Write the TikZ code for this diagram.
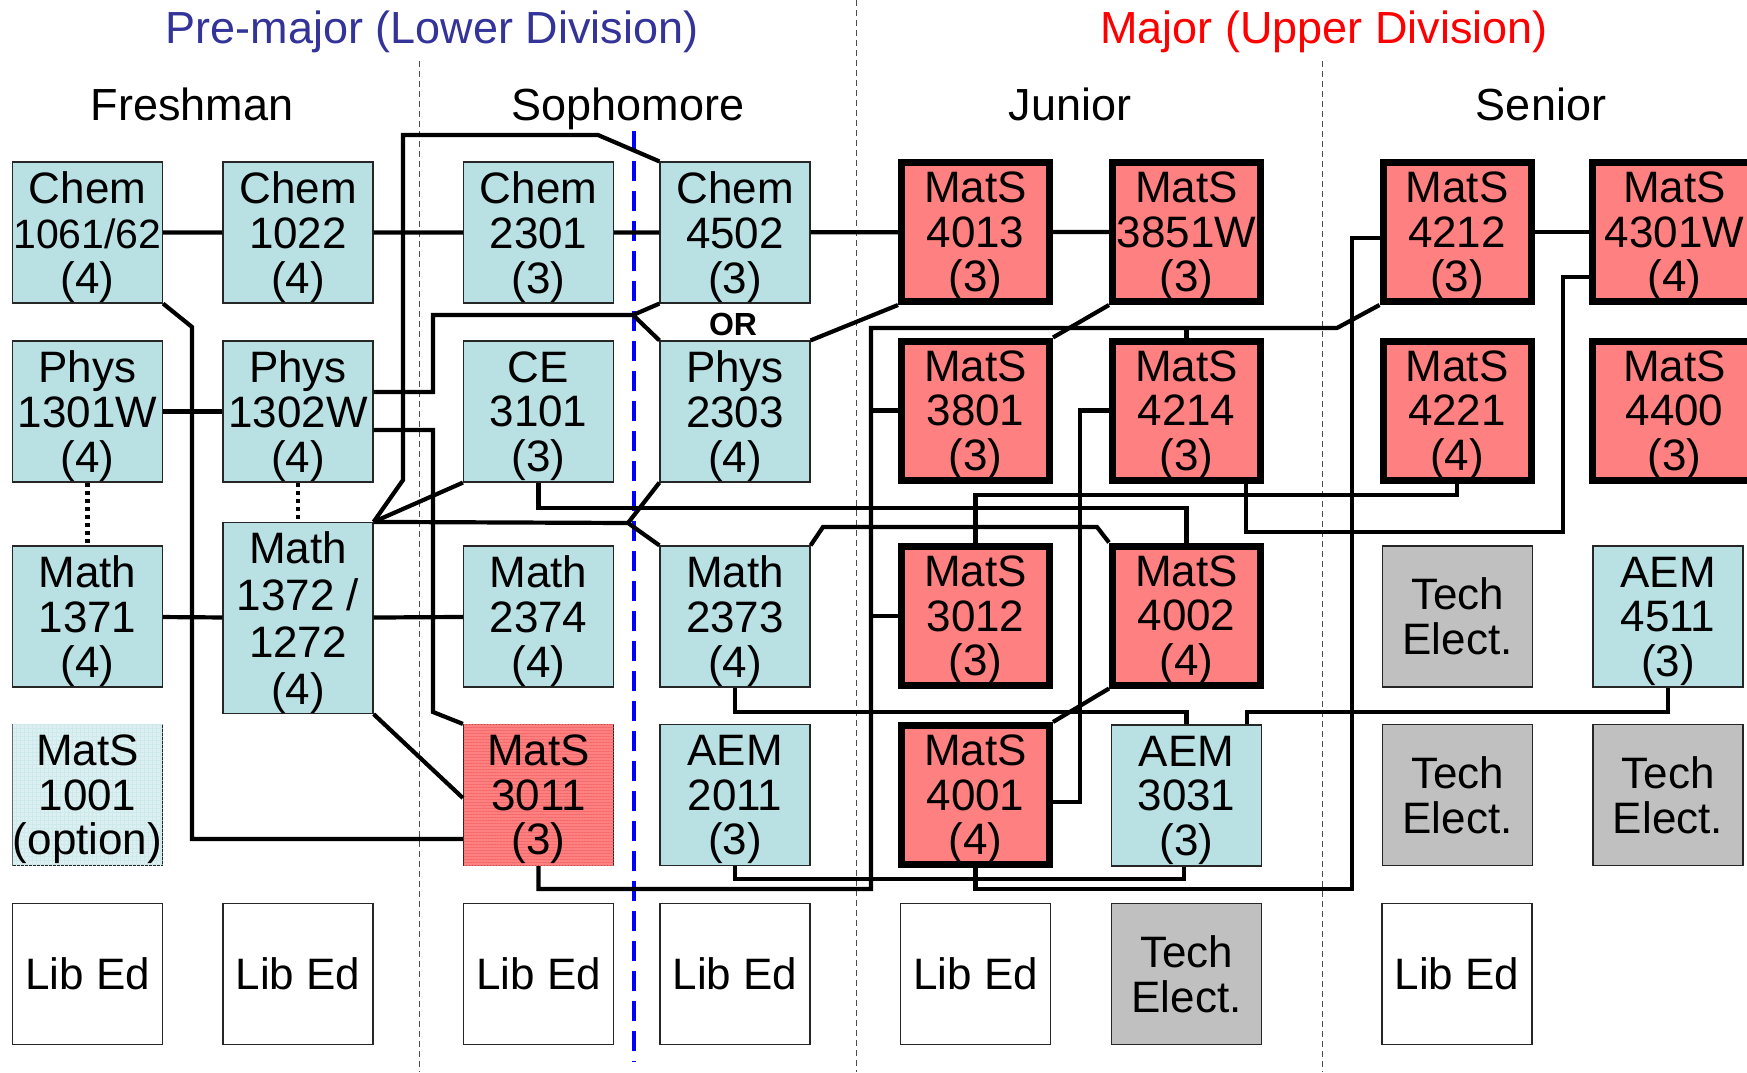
\documentclass[tikz,border=0pt]{standalone}
\usepackage{fontspec}
\setmainfont{Liberation Sans}
\usetikzlibrary{patterns.meta}
\definecolor{courseblue}{HTML}{B9E0E3}
\definecolor{optblue}{HTML}{DCEFF1}
\definecolor{matsred}{HTML}{FF8080}
\definecolor{stripered}{HTML}{F46A6A}
\definecolor{techgray}{HTML}{C0C0C0}
\definecolor{premajor}{HTML}{333399}
\definecolor{splitblue}{HTML}{0000FF}

\begin{document}
\begin{tikzpicture}[
  x=0.5pt,y=-0.5pt,
  every node/.style={font=\fontsize{22}{22.3}\selectfont,align=center,inner sep=0pt},
  boxbase/.style={draw=black!85,line width=0.6pt,minimum width=75pt,minimum height=70.5pt},
  course/.style={boxbase,fill=courseblue,text depth=0pt},
  mats/.style={draw=black,line width=3.5pt,fill=matsred,
               minimum width=74pt,minimum height=69.5pt,text depth=0pt},
  matsx/.style={course,fill=matsred,
                postaction={pattern={Lines[angle=0,distance=1.5pt,line width=0.35pt]},
                            pattern color=stripered}},
  optbox/.style={course,fill=optblue,
                 postaction={pattern={Hatch[angle=0,distance=2pt,line width=0.2pt]},
                             pattern color=optblue!60!courseblue}},
  tech/.style={boxbase,fill=techgray},
  libed/.style={boxbase,fill=white},
  hdr/.style={font=\fontsize{22.5}{24}\selectfont,anchor=base},
  link/.style={line width=2.1pt},
  divider/.style={draw=black!70,line width=0.5pt,dash pattern=on 3pt off 2pt}
]
\useasboundingbox (0,0) rectangle (1747,1072);

% headings
\node[hdr,text=premajor] (lower) at (432,43) {Pre-major (Lower Division)};
\node[hdr,text=red] (upper) at (1324,43) {Major (Upper Division)};
\node[hdr] (fresh) at (192,120) {Freshman};
\node[hdr] (soph) at (628,120) {Sophomore};
\node[hdr] (junior) at (1070,120) {Junior};
\node[hdr] (senior) at (1541,120) {Senior};

% year dividers
\draw[divider] (419,61) -- (419,1072);
\draw[divider] (856,0) -- (856,1072);
\draw[divider] (1322,61) -- (1322,1072);
\draw[splitblue,line width=2pt,dash pattern=on 10pt off 5pt] (634,131) -- (634,1062);

% row 1
\node[course] (chemA) at (87.5,232.5) {Chem\\{\fontsize{20.5}{22.3}\selectfont 1061/62}\\(4)};
\node[course] (chemB) at (298,232.5) {Chem\\1022\\(4)};
\node[course] (chemC) at (538.5,232.5) {Chem\\2301\\(3)};
\node[course] (chemD) at (735,232.5) {Chem\\4502\\(3)};
\node[mats] (m4013) at (975.5,232) {MatS\\4013\\(3)};
\node[mats] (m3851) at (1186.5,232) {MatS\\3851W\\(3)};
\node[mats] (m4212) at (1457,232) {MatS\\4212\\(3)};
\node[mats,minimum width=82pt] (m4301) at (1674.5,232) {MatS\\4301W\\(4)};

% row 2
\node[course] (physA) at (87.5,411.5) {Phys\\1301W\\(4)};
\node[course] (physB) at (298,411.5) {Phys\\1302W\\(4)};
\node[course] (ce3101) at (538.5,411.5) {CE\\3101\\(3)};
\node[course] (phys2303) at (735,411.5) {Phys\\2303\\(4)};
\node[mats] (m3801) at (975.5,410.5) {MatS\\3801\\(3)};
\node[mats] (m4214) at (1186.5,410.5) {MatS\\4214\\(3)};
\node[mats] (m4221) at (1457,410.5) {MatS\\4221\\(4)};
\node[mats,minimum width=82pt] (m4400) at (1674.5,410.5) {MatS\\4400\\(3)};
\node[font=\bfseries\fontsize{16}{16}\selectfont] (orlabel) at (733,324) {OR};

% row 3
\node[course] (mathA) at (87.5,616.5) {Math\\1371\\(4)};
\node[course,minimum height=95.5pt,font=\fontsize{22}{23.4}\selectfont] (mathB) at (298,618) {Math\\1372 /\\1272\\(4)};
\node[course] (math2374) at (538.5,616.5) {Math\\2374\\(4)};
\node[course] (math2373) at (735,616.5) {Math\\2373\\(4)};
\node[mats] (m3012) at (975.5,616) {MatS\\3012\\(3)};
\node[mats] (m4002) at (1186.5,615.5) {MatS\\4002\\(4)};
\node[tech] (techA) at (1457.5,616.5) {Tech\\Elect.};
\node[course] (aem4511) at (1668,616.5) {AEM\\4511\\(3)};

% row 4
\node[optbox] (m1001) at (87.5,795) {MatS\\1001\\(option)};
\node[matsx] (m3011) at (538.5,795) {MatS\\3011\\(3)};
\node[course] (aem2011) at (735,795) {AEM\\2011\\(3)};
\node[mats] (m4001) at (975.5,795) {MatS\\4001\\(4)};
\node[course] (aem3031) at (1186.5,795.5) {AEM\\3031\\(3)};
\node[tech] (techB) at (1457.5,795) {Tech\\Elect.};
\node[tech] (techC) at (1668,795) {Tech\\Elect.};

% row 5
\node[libed] (libA) at (87.5,974) {Lib Ed};
\node[libed] (libB) at (298,974) {Lib Ed};
\node[libed] (libC) at (538.5,974) {Lib Ed};
\node[libed] (libD) at (735,974) {Lib Ed};
\node[libed] (libE) at (975.5,974) {Lib Ed};
\node[tech] (techD) at (1186.5,974) {Tech\\Elect.};
\node[libed] (libF) at (1457,974) {Lib Ed};

% straight chains
\draw[link] (chemA) -- (chemB) -- (chemC) -- (chemD) -- (m4013) -- (m3851);
\draw[link] (m4212) -- (m4301);
\draw[link] (physA) -- (physB);
\draw[link] (mathA) -- (mathB) -- (math2374);
\draw[line width=2.2pt,dash pattern=on 2pt off 2pt] (physA.south) -- (mathA.north);
\draw[line width=2.2pt,dash pattern=on 2pt off 2pt] (physB.south) -- (mathB.north);

% lower division prerequisites
\draw[link] (chemA.south east) -- (192,327) -- (192,839) -- (m3011.west |- 0,839);
\draw[link] (mathB.north east) -- (403,480) -- (403,135) -- (598,135) -- (chemD.north west);
\draw[link] (mathB.north east) -- (ce3101.south west);
\draw[link] (mathB.north east) -- (628,523) -- (math2373.north west);
\draw[link] (phys2303.south west) -- (628,523);
\draw[link] (physB.east |- 0,392) -- (433,392) -- (433,315) -- (633,315) -- (chemD.south west);
\draw[link] (633,315) -- (phys2303.north west);
\draw[link] (physB.east |- 0,430) -- (433,430) -- (433,712) -- (m3011.north west);
\draw[link] (mathB.south east) -- (m3011.west |- 0,798);

% upper division prerequisites
\draw[link] (m4013.south west) -- (phys2303.north east);
\draw[link] (m3851.south west) -- (m3801.north east);
\draw[link] (ce3101.south) -- (ce3101.south |- 0,508) -- (m4002.north |- 0,508) -- (m4002.north);
\draw[link] (math2373.north east) -- (823,527) -- (1097,527) -- (m4002.north west);
\draw[link] (math2373.south) -- (math2373.south |- 0,712) -- (aem3031.north |- 0,712) -- (aem3031.north);
\draw[link] (aem4511.south) -- (aem4511.south |- 0,712) -- (1247,712) -- (aem3031.north -| 1247,0);
\draw[link] (aem2011.south) -- (aem2011.south |- 0,879) -- (1184,879) -- (aem3031.south -| 1184,0);
\draw[link] (m3011.south) -- (m3011.south |- 0,889) -- (871,889) -- (871,328) -- (1337,328) -- (m4212.south west);
\draw[link] (m4214.north |- 0,328) -- (m4214.north);
\draw[link] (m3801.west -| 871,0) -- (m3801.west);
\draw[link] (m3012.west -| 871,0) -- (m3012.west);
\draw[link] (m4214.west) -- (m4214.west -| 1080,0) -- (1080,802) -- (m4001.east |- 0,802);
\draw[link] (m4214.south -| 1246,0) -- (1246,532) -- (1563,532) -- (1563,277) -- (m4301.west |- 0,277);
\draw[link] (m4221.south) -- (m4221.south |- 0,495) -- (m3012.north |- 0,495) -- (m3012.north);
\draw[link] (m4002.south west) -- (m4001.north east);
\draw[link] (m4001.south) -- (m4001.south |- 0,889) -- (1352,889) -- (1352,238) -- (m4212.west |- 0,238);
\end{tikzpicture}
\end{document}
